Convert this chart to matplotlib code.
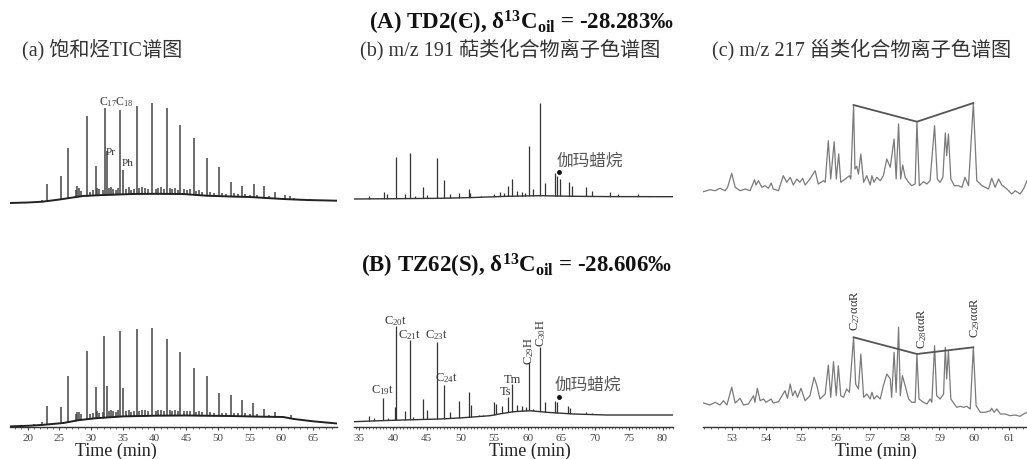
import matplotlib
matplotlib.use('Agg')
import matplotlib.pyplot as plt
from matplotlib.ticker import MultipleLocator

plt.rcParams['font.family'] = ['Liberation Serif', 'Noto Sans CJK SC']
plt.rcParams['mathtext.fontset'] = 'custom'
plt.rcParams['mathtext.rm'] = 'Liberation Serif'
plt.rcParams['mathtext.it'] = 'Liberation Serif:italic'
plt.rcParams['mathtext.bf'] = 'Liberation Serif:bold'
plt.rcParams['mathtext.default'] = 'regular'

# ---------------- data ----------------
titles = [r"(A) TD2(Є), δ$^{\mathbf{13}}$C$_{\mathbf{oil}}$ = -28.283‰",
          r"(B) TZ62(S), δ$^{\mathbf{13}}$C$_{\mathbf{oil}}$ = -28.606‰"]
panel_titles = ["(a) 饱和烃TIC谱图", "(b) m/z 191 萜类化合物离子色谱图", "(c) m/z 217 甾类化合物离子色谱图"]
xlabel = "Time (min)"

# (a) saturated hydrocarbon TIC, top sample
a_top_base_t = [17.2, 20.0, 22.3, 25.0, 28.7, 32.0, 36.6, 40.0, 44.5, 48.2, 52.0, 55.0, 60.3, 64.0, 68.8]
a_top_base_i = [6.0, 6.5, 7.3, 9.5, 13.0, 14.0, 15.0, 15.2, 15.0, 13.3, 12.5, 12.0, 10.0, 9.0, 8.3]
a_top_peak_t = [19.5, 22.3, 23.1, 25.2, 26.3, 27.8, 29.3, 30.7, 32.2, 32.45, 34.6, 35.0, 37.2, 39.6,
                41.9, 44.1, 46.2, 48.3, 50.2, 52.1, 53.8, 55.7, 57.3, 59.0, 60.6, 61.4]
a_top_peak_i = [7.5, 9, 25, 33, 61, 23, 93, 43, 101, 58, 99, 39, 103, 106,
                101, 84, 71, 51, 42, 27, 23, 25, 23, 17, 14, 13]
a_top_minor_t = [27.6, 28.1, 28.4, 29.8, 30.3, 31.0, 31.3, 31.8, 32.8, 33.2, 33.5, 33.9, 34.3, 35.5,
                 35.9, 36.3, 36.8, 37.6, 38.1, 38.5, 38.9, 40.2, 40.6, 41.1, 41.5, 42.4, 42.8, 43.3,
                 43.7, 44.7, 45.1, 45.6, 46.6, 47.0, 47.5, 48.8, 49.4, 50.7, 51.3, 52.6, 53.2, 54.3,
                 55.0, 56.2, 58.0, 62.0, 63.0, 64.5, 66.0]
a_top_minor_i = [19, 21, 18, 17, 19, 21, 20, 19, 21, 22, 20, 19, 21, 20,
                 22, 19, 20, 21, 22, 21, 20, 20, 21, 22, 20, 21, 20, 21,
                 19, 20, 19, 20, 18, 19, 17, 17, 16, 16, 15, 16, 15, 15,
                 14, 14.5, 13.5, 11, 10.5, 10, 9.5]

# (a) bottom sample
a_bot_base_t = [17.2, 20.3, 22.3, 25.6, 28.0, 30.6, 35.0, 40.0, 45.0, 47.6, 52.0, 57.0, 60.3, 62.0, 65.0, 68.8]
a_bot_base_i = [0.3, 1.0, 1.8, 3.7, 6.5, 8.4, 10.3, 11.0, 11.2, 11.0, 10.7, 10.0, 9.7, 7.7, 5.4, 3.2]
a_bot_peak_t = [21.0, 22.3, 23.1, 25.2, 26.3, 27.8, 29.3, 30.7, 32.1, 32.45, 34.6, 35.0, 37.2, 39.6,
                41.9, 44.1, 46.2, 48.3, 50.2, 52.1, 53.8, 55.6, 57.3, 59.0, 61.5]
a_bot_peak_i = [2.5, 4.5, 20.7, 19.7, 50.7, 14.7, 75.7, 39.7, 90.7, 40.7, 95.7, 38.7, 97.7, 98.7,
                87.7, 74.7, 58.7, 50.7, 33.7, 31.7, 26.7, 23.7, 17.7, 14.5, 11.5]
a_bot_minor_i = [13, 15, 13, 12.5, 14, 15.5, 14, 14.5, 16, 17, 16, 15, 16.5, 15.5,
                 17, 15, 16, 16, 17, 16.5, 15.5, 16, 16.5, 17, 16, 16.5, 16, 17,
                 15.5, 16, 15.5, 16, 15, 15.5, 14.5, 14.5, 14, 14, 13.5, 14, 13.5, 13.5,
                 13, 13, 12, 9, 8, 6.5, 5]

# (b) m/z 191, top sample
b_top_base_t = [34.2, 40.0, 47.0, 52.0, 56.9, 61.8, 66.8, 72.0, 81.6]
b_top_base_i = [10.0, 10.3, 10.7, 11.5, 12.7, 13.3, 12.7, 12.4, 12.3]
b_top_peak_t = [36.5, 38.6, 39.1, 40.4, 41.7, 42.5, 43.2, 44.4, 45.1, 46.5, 47.6, 48.4, 49.8, 51.2,
                51.4, 53.0, 55.0, 55.9, 56.5, 57.0, 57.7, 58.4, 59.1, 59.6, 60.2, 60.8, 61.8, 62.6,
                64.0, 64.4, 64.8, 66.1, 66.6, 68.7, 69.6, 72.2, 73.4, 76.3, 78.0]
b_top_peak_i = [13.3, 17.3, 15, 52, 15, 56, 13, 22, 14, 51, 29, 15, 16, 20,
                16, 13, 15, 17, 16, 23, 30, 18.3, 17, 16, 63, 20, 106, 26,
                36, 33, 30, 27, 23, 22, 18.3, 17, 15, 15, 13.3]

# (b) bottom sample
b_bot_base_t = [34.2, 38.0, 42.0, 47.0, 50.0, 54.4, 56.0, 57.9, 60.3, 62.8, 66.8, 71.7, 81.6]
b_bot_base_i = [5.0, 6.0, 6.8, 7.7, 8.8, 11.0, 13.0, 15.0, 16.0, 14.4, 12.7, 11.7, 11.7]
b_bot_peak_t = [36.5, 37.2, 38.5, 39.3, 40.3, 40.4, 41.7, 42.5, 43.0, 44.4, 45.1, 46.5, 47.6, 48.4,
                49.8, 51.2, 51.5, 52.8, 53.4, 55.0, 55.3, 56.2, 57.1, 57.7, 58.4, 59.1, 59.7, 60.2,
                60.8, 61.8, 62.6, 64.0, 64.4, 66.0, 66.3, 68.7, 69.5]
b_bot_peak_i = [10.7, 8.5, 29, 9, 19.7, 101, 15.7, 87, 10, 27.7, 16.7, 84.7, 41.7, 15,
                25.7, 34.7, 21.7, 11.5, 12, 24.7, 22.7, 21, 29.7, 42.7, 21.7, 21, 19.5, 64.7,
                17.7, 79.7, 24.7, 25.7, 24.4, 20.7, 18.7, 15, 13.5]
b_bot_labels = [r"$\mathrm{C_{19}t}$", r"$\mathrm{C_{20}t}$", r"$\mathrm{C_{21}t}$",
                r"$\mathrm{C_{23}t}$", r"$\mathrm{C_{24}t}$", "Ts", "Tm"]
b_bot_label_t = [38.4, 40.4, 42.5, 46.5, 47.9, 56.7, 57.7]
b_bot_label_i = [37.5, 107, 93, 93, 49.4, 35.2, 47.7]
b_bot_vlabels = [r"$\mathrm{C_{29}H}$", r"$\mathrm{C_{30}H}$"]
b_bot_vlabel_t = [60.2, 61.9]
b_bot_vlabel_i = [76.5, 94.9]
gamma_label = "伽玛蜡烷"

# (c) m/z 217, top sample (continuous trace)
c_top_t = [52.18, 52.37, 52.52, 52.66, 52.81, 52.88, 53.00, 53.10, 53.24, 53.39, 53.53, 53.66, 53.70, 53.77,
           53.87, 53.96, 54.06, 54.14, 54.20, 54.35, 54.49, 54.59, 54.69, 54.78, 54.88, 54.97, 55.05, 55.12,
           55.26, 55.41, 55.50, 55.65, 55.70, 55.79, 55.86, 55.96, 56.02, 56.09, 56.15, 56.28, 56.40, 56.44,
           56.52, 56.56, 56.61, 56.66, 56.73, 56.81, 56.90, 57.00, 57.05, 57.11, 57.19, 57.29, 57.38, 57.48,
           57.58, 57.69, 57.75, 57.82, 57.88, 57.94, 58.01, 58.11, 58.20, 58.30, 58.35, 58.42, 58.54, 58.64,
           58.73, 58.86, 58.94, 59.02, 59.10, 59.17, 59.21, 59.26, 59.33, 59.43, 59.55, 59.65, 59.74, 59.84,
           59.98, 60.08, 60.23, 60.42, 60.51, 60.61, 60.71, 60.80, 60.95, 61.09, 61.19, 61.33, 61.43, 61.53]
c_top_i = [17.3, 19.3, 18.3, 20.7, 18.3, 21.7, 35.7, 21.7, 18.3, 20.0, 18.3, 29.3, 24.0, 28.3,
           21.7, 23.3, 20.7, 26.0, 20.0, 18.3, 33.3, 26.7, 31.7, 24.0, 30.0, 26.7, 30.7, 24.0,
           30.0, 38.3, 25.0, 28.3, 26.7, 68.3, 30.0, 67.3, 30.0, 55.0, 26.7, 30.0, 33.3, 30.0,
           104.0, 40.0, 42.7, 35.0, 55.0, 26.7, 33.3, 24.0, 33.3, 26.7, 31.7, 28.3, 33.3, 50.0,
           41.7, 70.0, 30.0, 85.0, 30.0, 44.0, 31.7, 26.7, 23.3, 25.0, 87.3, 23.3, 27.3, 25.0,
           28.3, 83.3, 30.0, 26.7, 31.7, 76.0, 53.3, 75.0, 30.0, 23.3, 23.3, 21.7, 31.7, 23.3,
           106.0, 28.3, 23.3, 20.0, 30.7, 21.7, 30.0, 24.0, 20.0, 15.0, 18.3, 15.0, 20.0, 28.3]
c_top_mark_t = [56.52, 58.35, 59.98]
c_top_mark_i = [104.0, 87.3, 106.0]

# (c) bottom sample
c_bot_t = [52.18, 52.37, 52.52, 52.66, 52.76, 52.86, 53.00, 53.10, 53.24, 53.34, 53.48, 53.63, 53.67, 53.74,
           53.82, 53.92, 53.99, 54.14, 54.20, 54.35, 54.54, 54.61, 54.69, 54.76, 54.83, 54.90, 55.00, 55.12,
           55.26, 55.38, 55.46, 55.55, 55.65, 55.70, 55.79, 55.86, 55.94, 56.02, 56.08, 56.15, 56.23, 56.32,
           56.40, 56.52, 56.58, 56.66, 56.73, 56.81, 56.90, 57.00, 57.05, 57.11, 57.19, 57.29, 57.38, 57.48,
           57.58, 57.62, 57.69, 57.75, 57.82, 57.87, 57.93, 58.01, 58.11, 58.20, 58.30, 58.35, 58.41, 58.54,
           58.64, 58.73, 58.78, 58.86, 58.92, 59.02, 59.12, 59.17, 59.21, 59.26, 59.33, 59.43, 59.50, 59.60,
           59.70, 59.79, 59.89, 59.98, 60.06, 60.18, 60.32, 60.47, 60.51, 60.58, 60.66, 60.76, 60.90, 61.04,
           61.19, 61.33, 61.43, 61.53]
c_bot_i = [23.7, 21.7, 24.4, 21.7, 26.0, 21.7, 39.4, 23.7, 28.4, 21.7, 22.7, 31.0, 24.4, 38.4,
           26.0, 27.7, 24.4, 27.7, 23.7, 25.0, 36.0, 28.4, 42.7, 31.0, 36.0, 29.4, 38.4, 26.0,
           31.0, 49.4, 41.0, 27.7, 31.0, 32.7, 61.7, 29.4, 65.0, 31.0, 61.0, 31.0, 29.4, 37.7,
           34.4, 89.4, 42.7, 37.7, 72.7, 29.4, 32.7, 27.7, 34.4, 27.7, 31.0, 27.7, 41.0, 52.7,
           47.7, 29.4, 74.4, 34.4, 99.4, 31.0, 51.0, 41.0, 27.7, 24.4, 24.4, 72.7, 27.7, 24.4,
           22.7, 27.7, 24.4, 81.0, 31.0, 27.7, 32.7, 79.4, 47.7, 76.0, 27.7, 22.7, 19.4, 20.4,
           19.4, 20.4, 17.7, 79.4, 21.0, 14.4, 14.4, 16.0, 18.4, 14.4, 17.7, 12.7, 12.7, 11.0,
           11.7, 10.4, 12.7, 14.4]
c_bot_mark_t = [56.52, 58.35, 59.98]
c_bot_mark_i = [89.4, 72.7, 79.4]
c_labels = [r"$\mathrm{C_{27}ααR}$", r"$\mathrm{C_{28}ααR}$", r"$\mathrm{C_{29}ααR}$"]
c_label_t = [56.56, 58.5, 60.03]
c_label_i = [116.7, 99.2, 110.2]

# ---------------- layout ----------------
W, H = 1027, 460
fig = plt.figure(figsize=(W / 100, H / 100), dpi=100)
fig.patch.set_facecolor('white')


def rect(x0, x1, ytop, ybot):
    return [x0 / W, 1 - ybot / H, (x1 - x0) / W, (ybot - ytop) / H]


xcols = [(10, 337, 17.2, 68.8), (354, 673, 34.2, 81.55), (703, 1027, 52.17, 61.53)]
top_axes, bot_axes = [], []
for (x0, x1, t0, t1) in xcols:
    at = fig.add_axes(rect(x0, x1, 70, 210))
    at.set_xlim(t0, t1)
    at.set_ylim(0, 140)
    at.axis('off')
    top_axes.append(at)
    ab = fig.add_axes(rect(x0, x1, 290, 427.7))
    ab.set_xlim(t0, t1)
    ab.set_ylim(0, 137.7)
    for s in ['top', 'left', 'right']:
        ab.spines[s].set_visible(False)
    ab.spines['bottom'].set_color('#333333')
    ab.spines['bottom'].set_linewidth(1.0)
    ab.set_yticks([])
    ab.patch.set_alpha(0)
    ab.tick_params(axis='x', which='major', length=2.5, width=0.8, color='#444444',
                   labelsize=8, labelcolor='#444444', pad=2)
    ab.tick_params(axis='x', which='minor', length=1.5, width=0.6, color='#555555')
    bot_axes.append(ab)

bot_axes[0].xaxis.set_major_locator(MultipleLocator(5))
bot_axes[0].xaxis.set_minor_locator(MultipleLocator(1))
bot_axes[1].xaxis.set_major_locator(MultipleLocator(5))
bot_axes[1].xaxis.set_minor_locator(MultipleLocator(0.5))
bot_axes[2].xaxis.set_major_locator(MultipleLocator(1))
bot_axes[2].xaxis.set_minor_locator(MultipleLocator(0.2))


def stems(ax, base_t, base_i, pk_t, pk_i, col, lw, base_lw, base_col):
    ax.vlines(pk_t, 0, pk_i, colors=col, linewidth=lw, zorder=1)
    ax.fill_between(base_t, 0, base_i, color='white', zorder=2, linewidth=0)
    ax.plot(base_t, base_i, color=base_col, linewidth=base_lw, zorder=3,
            solid_joinstyle='round')


# (a)
stems(top_axes[0], a_top_base_t, a_top_base_i, a_top_peak_t + a_top_minor_t,
      a_top_peak_i + a_top_minor_i, '#444444', 1.1, 1.4, '#222222')
stems(bot_axes[0], a_bot_base_t, a_bot_base_i, a_bot_peak_t + a_top_minor_t,
      a_bot_peak_i + a_bot_minor_i, '#444444', 1.1, 1.4, '#222222')
top_axes[0].text(31.2, 101, r"$\mathrm{C_{17}C_{18}}$", fontsize=8.5, ha='left', va='bottom', color='#333333')
top_axes[0].text(32.3, 57.3, "Pr", fontsize=8, ha='left', va='center', color='#333333')
top_axes[0].text(34.8, 46.7, "Ph", fontsize=8, ha='left', va='center', color='#333333')

# (b)
stems(top_axes[1], b_top_base_t, b_top_base_i, b_top_peak_t, b_top_peak_i, '#333333', 0.9, 1.0, '#333333')
stems(bot_axes[1], b_bot_base_t, b_bot_base_i, b_bot_peak_t, b_bot_peak_i, '#333333', 0.9, 1.0, '#333333')
top_axes[1].text(64.2, 48.3, gamma_label, fontsize=12, ha='left', va='center', color='#555555')
top_axes[1].plot([64.6], [36.7], 'o', color='#111111', markersize=2.5, zorder=4)
bot_axes[1].text(64.0, 42, gamma_label, fontsize=12, ha='left', va='center', color='#555555')
bot_axes[1].plot([64.6], [30], 'o', color='#111111', markersize=2.5, zorder=4)
for lab, t, i in zip(b_bot_labels, b_bot_label_t, b_bot_label_i):
    bot_axes[1].text(t, i, lab, fontsize=9, ha='center', va='center', color='#333333', zorder=5)
for lab, t, i in zip(b_bot_vlabels, b_bot_vlabel_t, b_bot_vlabel_i):
    bot_axes[1].text(t, i, lab, fontsize=9, ha='center', va='center', rotation=90,
                     color='#333333', zorder=5)

# (c)
top_axes[2].plot(c_top_t, c_top_i, color='#7a7a7a', linewidth=0.9)
top_axes[2].plot(c_top_mark_t, c_top_mark_i, color='#555555', linewidth=1.3)
bot_axes[2].plot(c_bot_t, c_bot_i, color='#7a7a7a', linewidth=0.9)
bot_axes[2].plot(c_bot_mark_t, c_bot_mark_i, color='#555555', linewidth=1.3)
for lab, t, i in zip(c_labels, c_label_t, c_label_i):
    bot_axes[2].text(t, i, lab, fontsize=9, ha='center', va='center', rotation=90,
                     color='#333333', clip_on=False)

# titles
fig.text(522 / W, 1 - 23 / H, titles[0], fontsize=16.5, fontweight='bold', ha='center', va='center',
         color='#111111')
fig.text(517 / W, 1 - 266 / H, titles[1], fontsize=16.5, fontweight='bold', ha='center', va='center',
         color='#111111')
for xp, txt in zip([22, 360, 712], panel_titles):
    fig.text(xp / W, 1 - 50 / H, txt, fontsize=14.5, ha='left', va='center', color='#333333')
for xp in [115.6, 530, 876]:
    fig.text(xp / W, 1 - 451.7 / H, xlabel, fontsize=13, ha='center', va='center', color='#222222')

fig.savefig('out.png', dpi=100)
